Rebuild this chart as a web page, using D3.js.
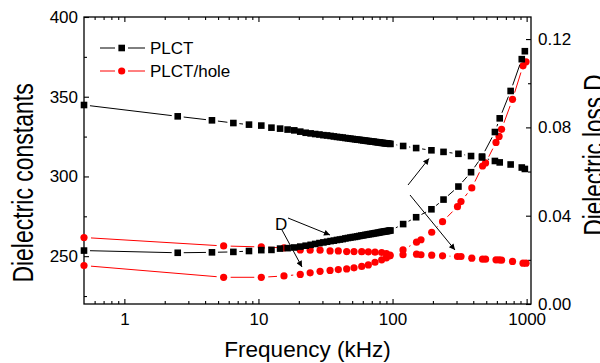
<!DOCTYPE html>
<html>
<head>
<meta charset="utf-8">
<script src="https://cdn.jsdelivr.net/npm/d3@7"></script>
<style>
  body { margin: 0; background: #fff; }
  text { font-family: "Liberation Sans", Arial, sans-serif; fill: #000; }
</style>
</head>
<body>
<div id="chart"></div>
<script>
// PLCT (black squares), frequency in kHz
const plctFreq = [0.5, 2.5, 4.5, 6.5, 8.5, 10.5, 12.5, 14.5, 16.5, 18.5, 20.5,
  22.5, 24.5, 26.5, 28.5, 30.5, 32.5, 34.5, 36.5, 38.5, 40.5, 42.5, 44.5, 46.5, 48.5,
  50.5, 52.5, 54.5, 56.5, 58.5, 60.5, 62.5, 64.5, 66.5, 68.5, 70.5, 72.5, 74.5, 76.5,
  78.5, 80.5, 82.5, 84.5, 86.5, 88.5, 90.5, 92.5, 94.5, 96.5,
  120, 150, 195, 240, 310, 385, 465, 580, 630, 760, 920, 970];
const plctEps = [344.8, 337.7, 335.2, 333.5, 332.5, 331.9, 330.6, 330.0, 329.4, 328.9, 328.1,
  327.4, 327.0, 326.6, 326.3, 325.9, 325.7, 325.4, 325.1, 324.8, 324.6, 324.4, 324.1, 323.9, 323.7,
  323.5, 323.3, 323.1, 323.0, 322.8, 322.6, 322.5, 322.3, 322.2, 322.0, 321.9, 321.8, 321.6, 321.5,
  321.4, 321.3, 321.1, 321.0, 320.9, 320.8, 320.7, 320.6, 320.5, 320.4,
  319.1, 317.8, 316.4, 315.4, 314.2, 312.8, 311.9, 309.7, 308.8, 307.5, 305.6, 304.7];
const plctLoss = [0.0242, 0.0232, 0.0234, 0.0236, 0.0240, 0.0244, 0.0245, 0.0251, 0.0253, 0.0256, 0.0260,
  0.0264, 0.0268, 0.0272, 0.0276, 0.0279, 0.0282, 0.0285, 0.0287, 0.0290, 0.0292, 0.0294, 0.0297, 0.0299, 0.0301,
  0.0303, 0.0304, 0.0306, 0.0308, 0.0310, 0.0311, 0.0313, 0.0314, 0.0316, 0.0317, 0.0318, 0.0320, 0.0321, 0.0322,
  0.0323, 0.0325, 0.0326, 0.0327, 0.0328, 0.0329, 0.0330, 0.0331, 0.0332, 0.0333,
  0.0362, 0.0393, 0.0429, 0.0473, 0.0532, 0.0597, 0.0668, 0.0779, 0.0841, 0.0965, 0.1109, 0.1145];

// PLCT/hole (red circles)
const holeFreq = [0.5, 5.5, 10.5, 15.5, 20.5, 24.3, 28.8, 34.2, 39.4, 45.5, 51.6, 58.9, 66, 74, 83, 90, 95.8,
  119.7, 151, 163, 196, 236, 305, 324, 390, 469, 494, 591, 623, 650, 785, 940, 990];
const holeEps = [261.7, 256.4, 255.8, 255.2, 253.9, 253.75, 253.75, 253.3, 253.3, 252.9, 252.9, 252.8, 252.7, 252.5, 252.3, 251.6, 250.6,
  250.9, 251.25, 250.9, 250.6, 250.2, 249.8, 249.8, 248.75, 248.1, 248.1, 247.7, 247.7, 247.5, 246.7, 245.6, 245.6];
const holeLoss = [0.0174, 0.0121, 0.0121, 0.0127, 0.0134, 0.0141, 0.0148, 0.0152, 0.0156, 0.0159, 0.0164, 0.0170, 0.0177, 0.0189, 0.0200, 0.0209, 0.0218,
  0.0245, 0.0280, 0.0291, 0.0325, 0.0373, 0.0441, 0.0464, 0.0526, 0.0625, 0.0639, 0.0732, 0.0759, 0.0791, 0.0927, 0.1079, 0.1097];

// ticks
const freqTicks = [1, 10, 100, 1000];
const freqMinor = [0.6, 0.7, 0.8, 0.9, 2, 3, 4, 5, 6, 7, 8, 9, 20, 30, 40, 50, 60, 70, 80, 90,
  200, 300, 400, 500, 600, 700, 800, 900];
const epsTicks = [250, 300, 350, 400];
const epsMinor = [225, 275, 325, 375];
const lossTicks = [0, 0.04, 0.08, 0.12];
const lossMinor = [0.02, 0.06, 0.10];

const legendNames = ['PLCT', 'PLCT/hole'];

const W = 600, H = 363;
const margin = { top: 17, right: 69, bottom: 59, left: 84 };
const width = W - margin.left - margin.right;
const height = H - margin.top - margin.bottom;

const x = d3.scaleLog().domain([0.5, 1078]).range([0, width]);
const yEps = d3.scaleLinear().domain([220, 400]).range([height, 0]);
const yLoss = d3.scaleLinear().domain([0, 0.13]).range([height, 0]);

const svg = d3.select('#chart').append('svg')
  .attr('width', W)
  .attr('height', H);

svg.append('defs').append('marker')
  .attr('id', 'arrow')
  .attr('viewBox', '0 0 10 10')
  .attr('refX', 10).attr('refY', 5)
  .attr('markerUnits', 'userSpaceOnUse')
  .attr('markerWidth', 9).attr('markerHeight', 6)
  .attr('orient', 'auto')
  .append('path').attr('d', 'M0,0L10,5L0,10z').attr('fill', '#000');

const g = svg.append('g').attr('transform', `translate(${margin.left},${margin.top})`);

// axes (ticks pointing inward)
function styleAxis(sel) {
  sel.select('.domain').remove();
  sel.selectAll('line').attr('stroke', '#000').attr('stroke-width', 1.1);
  sel.selectAll('text').style('font-size', '17px').style('font-family', '"Liberation Sans", Arial, sans-serif');
}

g.append('g').attr('transform', `translate(0,${height})`)
  .call(d3.axisBottom(x).tickValues(freqTicks).tickFormat(d3.format('d')).tickSizeInner(-5).tickSizeOuter(0).tickPadding(9))
  .call(styleAxis);
g.append('g').attr('transform', `translate(0,${height})`)
  .call(d3.axisBottom(x).tickValues(freqMinor).tickFormat('').tickSizeInner(-3).tickSizeOuter(0))
  .call(styleAxis);
g.append('g')
  .call(d3.axisTop(x).tickValues(freqTicks).tickFormat('').tickSizeInner(-5).tickSizeOuter(0))
  .call(styleAxis);
g.append('g')
  .call(d3.axisTop(x).tickValues(freqMinor).tickFormat('').tickSizeInner(-3).tickSizeOuter(0))
  .call(styleAxis);

g.append('g')
  .call(d3.axisLeft(yEps).tickValues(epsTicks).tickSizeInner(-5).tickSizeOuter(0).tickPadding(6))
  .call(styleAxis);
g.append('g')
  .call(d3.axisLeft(yEps).tickValues(epsMinor).tickFormat('').tickSizeInner(-3).tickSizeOuter(0))
  .call(styleAxis);

g.append('g').attr('transform', `translate(${width},0)`)
  .call(d3.axisRight(yLoss).tickValues(lossTicks).tickFormat(d3.format('.2f')).tickSizeInner(-5).tickSizeOuter(0).tickPadding(7))
  .call(styleAxis);
g.append('g').attr('transform', `translate(${width},0)`)
  .call(d3.axisRight(yLoss).tickValues(lossMinor).tickFormat('').tickSizeInner(-3).tickSizeOuter(0))
  .call(styleAxis);

g.append('rect')
  .attr('width', width).attr('height', height)
  .attr('fill', 'none').attr('stroke', '#000').attr('stroke-width', 1.3);

// line pieces stop short of each symbol, like the original plot
function gappedSegments(pts, trim) {
  const segs = [];
  for (let i = 0; i < pts.length - 1; i++) {
    const [x1, y1] = pts[i], [x2, y2] = pts[i + 1];
    const dx = x2 - x1, dy = y2 - y1;
    const len = Math.hypot(dx, dy);
    if (len <= 2 * trim + 0.5) continue;
    const ux = dx / len, uy = dy / len;
    segs.push([x1 + ux * trim, y1 + uy * trim, x2 - ux * trim, y2 - uy * trim]);
  }
  return segs;
}

function drawSeries(freq, vals, yScale, color, shape) {
  const pts = freq.map((f, i) => [x(f), yScale(vals[i])]);
  const trim = shape === 'square' ? 6 : 7;
  const s = g.append('g');
  s.selectAll('line')
    .data(gappedSegments(pts, trim))
    .enter().append('line')
    .attr('x1', d => d[0]).attr('y1', d => d[1])
    .attr('x2', d => d[2]).attr('y2', d => d[3])
    .attr('stroke', color).attr('stroke-width', 1);
  if (shape === 'square') {
    s.selectAll('rect')
      .data(pts)
      .enter().append('rect')
      .attr('x', d => d[0] - 3.3).attr('y', d => d[1] - 3.3)
      .attr('width', 6.6).attr('height', 6.6)
      .attr('fill', color);
  } else {
    s.selectAll('circle')
      .data(pts)
      .enter().append('circle')
      .attr('cx', d => d[0]).attr('cy', d => d[1])
      .attr('r', 3.6)
      .attr('fill', color);
  }
}

drawSeries(holeFreq, holeEps, yEps, '#ff0000', 'circle');
drawSeries(holeFreq, holeLoss, yLoss, '#ff0000', 'circle');
drawSeries(plctFreq, plctEps, yEps, '#000000', 'square');
drawSeries(plctFreq, plctLoss, yLoss, '#000000', 'square');

// legend
const legend = svg.append('g').attr('transform', 'translate(100,48)');
legendNames.forEach((name, i) => {
  const color = i === 0 ? '#000000' : '#ff0000';
  const row = legend.append('g').attr('transform', `translate(0,${i * 23})`);
  row.append('line').attr('x1', 0).attr('x2', 15).attr('stroke', color).attr('stroke-width', 1);
  row.append('line').attr('x1', 28).attr('x2', 45).attr('stroke', color).attr('stroke-width', 1);
  if (i === 0) {
    row.append('rect').attr('x', 18.4).attr('y', -3.3).attr('width', 6.6).attr('height', 6.6).attr('fill', color);
  } else {
    row.append('circle').attr('cx', 21.7).attr('r', 3.6).attr('fill', color);
  }
  row.append('text').attr('x', 50).attr('y', 6).style('font-size', '17px').text(name);
});

// annotations
svg.append('text').attr('x', 275).attr('y', 230).style('font-size', '17px').text('D');
const arrows = [
  [288, 218, 330, 235],
  [282, 230, 302, 267],
  [408, 185, 429, 158.5],
  [410, 195, 455, 250]
];
svg.selectAll('line.arrow')
  .data(arrows)
  .enter().append('line')
  .attr('class', 'arrow')
  .attr('x1', d => d[0]).attr('y1', d => d[1])
  .attr('x2', d => d[2]).attr('y2', d => d[3])
  .attr('stroke', '#000').attr('stroke-width', 1)
  .attr('marker-end', 'url(#arrow)');

// axis titles
svg.append('text')
  .attr('transform', `translate(${margin.left + width / 2},357)`)
  .attr('text-anchor', 'middle')
  .style('font-size', '22.5px')
  .text('Frequency (kHz)');
svg.append('text')
  .attr('transform', 'translate(33,183) rotate(-90) scale(1,1.27)')
  .attr('text-anchor', 'middle')
  .style('font-size', '23px')
  .text('Dielectric constants');
svg.append('text')
  .attr('transform', 'translate(604,155) rotate(-90) scale(1,1.27)')
  .attr('text-anchor', 'middle')
  .style('font-size', '22.5px')
  .text('Dielectric loss D');
</script>
</body>
</html>
